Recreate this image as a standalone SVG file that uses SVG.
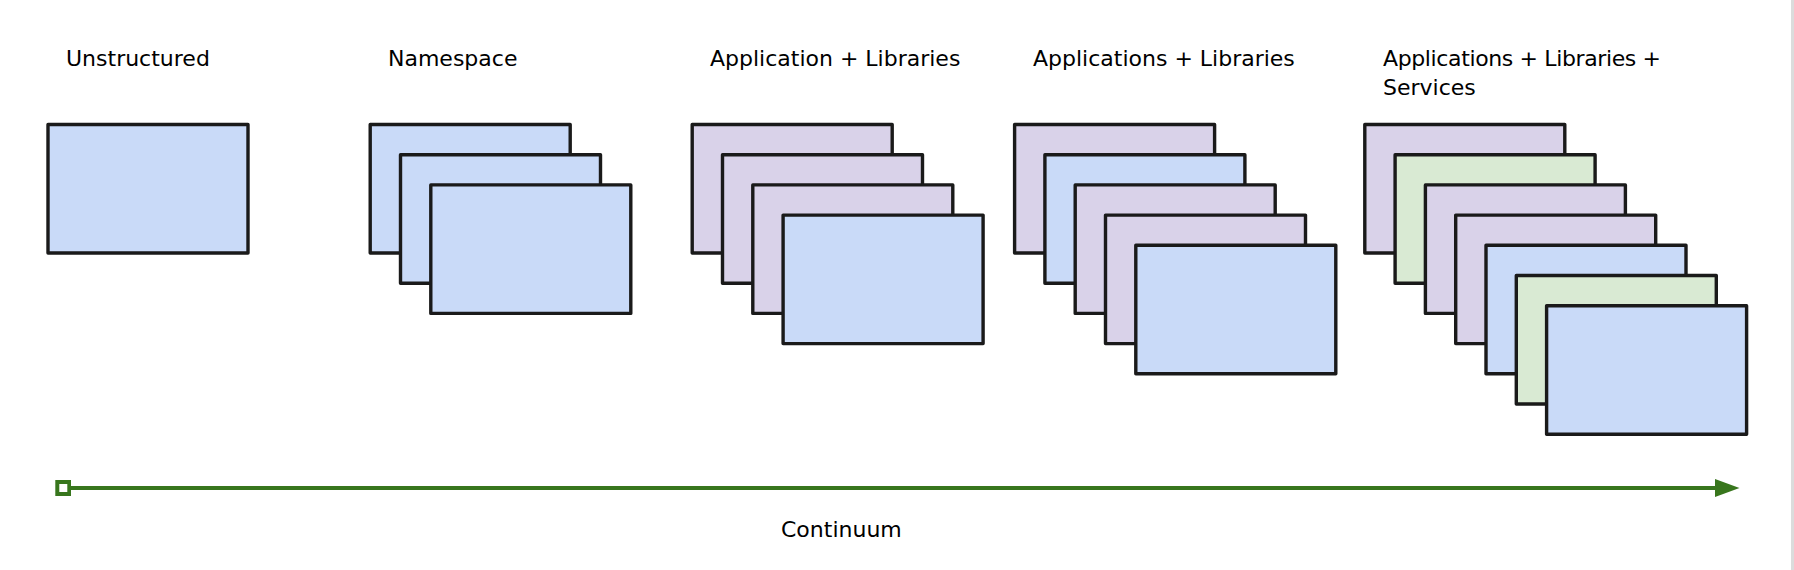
<svg xmlns="http://www.w3.org/2000/svg" width="1794" height="570" viewBox="0 0 1794 570">
  <style>
    .lbl { font-family: "DejaVu Sans", Verdana, sans-serif; font-size: 22px; fill: #000; }
    .box { stroke: #1a1a1a; stroke-width: 3.4; stroke-linejoin: round; }
    .blue { fill: #c9daf8; }
    .lav { fill: #d9d2e9; }
    .grn { fill: #d9ead3; }
    .axis { fill: none; stroke: #38761d; stroke-width: 4; }
  </style>
  <defs>
    <rect id="card" class="box" x="0" y="0" width="200" height="128.5"/>
    <marker id="arrowEnd" markerUnits="userSpaceOnUse" viewBox="0 0 24.5 18" markerWidth="24.5" markerHeight="18" refX="0" refY="9" orient="auto">
      <path d="M0,0 L24.5,9 L0,18 Z" fill="#38761d"/>
    </marker>
    <marker id="squareStart" markerUnits="userSpaceOnUse" viewBox="0 0 16 16" markerWidth="16" markerHeight="16" refX="8" refY="8" orient="auto">
      <rect x="2" y="2" width="12" height="12" fill="#ffffff" stroke="#38761d" stroke-width="4"/>
    </marker>
  </defs>
  <rect width="1794" height="570" fill="#ffffff"/>
  <rect x="1791" y="0" width="3" height="570" fill="#dcdcdc"/>

  <g id="unstructured">
    <text class="lbl" x="66" y="66">Unstructured</text>
    <use href="#card" class="blue" x="48" y="124.5"/>
  </g>

  <g id="namespace">
    <text class="lbl" x="388" y="66">Namespace</text>
    <use href="#card" class="blue" x="370.2" y="124.5"/>
    <use href="#card" class="blue" x="400.5" y="154.7"/>
    <use href="#card" class="blue" x="430.8" y="184.9"/>
  </g>

  <g id="application-libraries">
    <text class="lbl" x="710" y="66">Application + Libraries</text>
    <use href="#card" class="lav" x="692.2" y="124.5"/>
    <use href="#card" class="lav" x="722.5" y="154.7"/>
    <use href="#card" class="lav" x="752.8" y="184.9"/>
    <use href="#card" class="blue" x="783.1" y="215.1"/>
  </g>

  <g id="applications-libraries">
    <text class="lbl" x="1033" y="66">Applications + Libraries</text>
    <use href="#card" class="lav" x="1014.6" y="124.5"/>
    <use href="#card" class="blue" x="1044.9" y="154.7"/>
    <use href="#card" class="lav" x="1075.2" y="184.9"/>
    <use href="#card" class="lav" x="1105.5" y="215.1"/>
    <use href="#card" class="blue" x="1135.8" y="245.3"/>
  </g>

  <g id="applications-libraries-services">
    <text class="lbl" x="1383" y="66" textLength="278" lengthAdjust="spacing">Applications + Libraries +</text>
    <text class="lbl" x="1383" y="95">Services</text>
    <use href="#card" class="lav" x="1364.8" y="124.5"/>
    <use href="#card" class="grn" x="1395.1" y="154.7"/>
    <use href="#card" class="lav" x="1425.4" y="184.9"/>
    <use href="#card" class="lav" x="1455.7" y="215.1"/>
    <use href="#card" class="blue" x="1486.0" y="245.3"/>
    <use href="#card" class="grn" x="1516.3" y="275.5"/>
    <use href="#card" class="blue" x="1546.6" y="305.7"/>
  </g>

  <g id="connectors">
    <path class="axis" d="M63.3,488 H1715" marker-start="url(#squareStart)" marker-end="url(#arrowEnd)"/>
  </g>
  <g id="continuum-label">
    <text class="lbl" x="781" y="537">Continuum</text>
  </g>
</svg>
